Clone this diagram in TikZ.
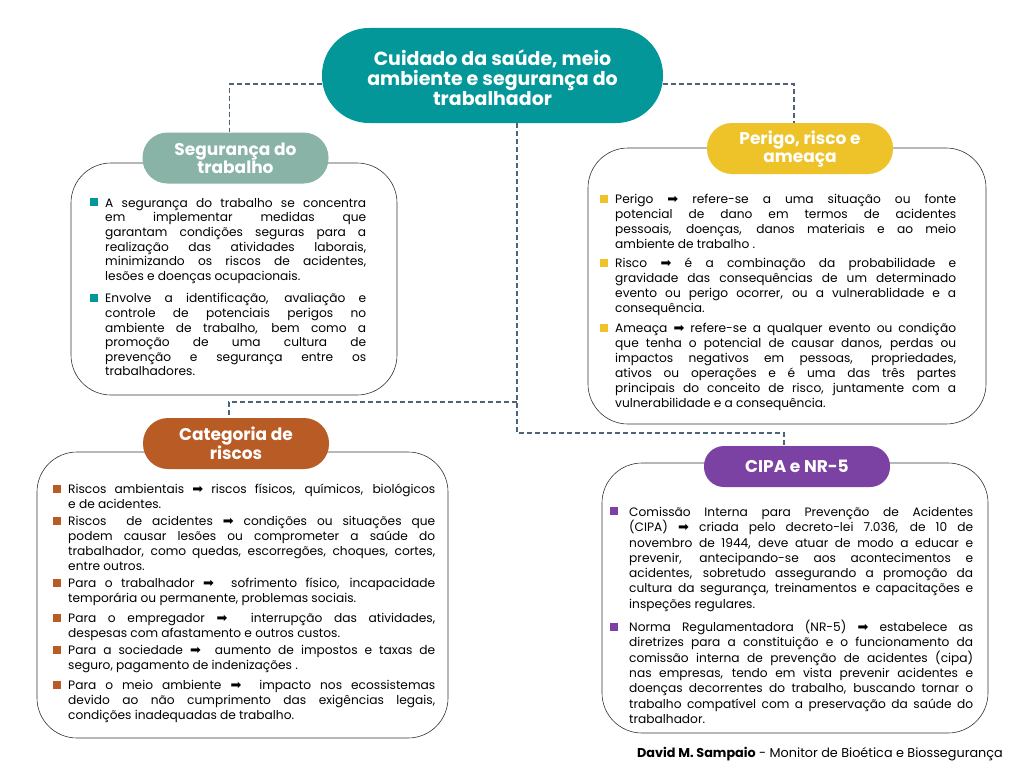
\documentclass[tikz,border=0pt]{standalone}
\usepackage{fontspec}
\setmainfont{Poppins}
\newfontfamily\symf{DejaVu Sans}
\usetikzlibrary{positioning,calc}

\definecolor{titlecol}{HTML}{03979A}
\definecolor{segcol}{HTML}{8AB3A8}
\definecolor{perigocol}{HTML}{EEC229}
\definecolor{riscocol}{HTML}{B95B25}
\definecolor{cipacol}{HTML}{7B41A3}
\definecolor{linkcol}{HTML}{4D6478}

\newlength{\bulind}
\newcommand{\arr}{{\symf\fontsize{13}{13}\selectfont ➡}}
\newcommand{\bul}[2][0pt]{\par\vspace{#1}\noindent\hangindent=\bulind\hangafter=1%
 \makebox[\bulind][l]{\textcolor{#2}{\rule[1pt]{8pt}{8pt}}}}
\newenvironment{bodytext}[3]{\begin{minipage}[t]{#1}\fontsize{12.2}{#3}\selectfont
 \setlength{\parskip}{0pt}\setlength{\bulind}{#2}}{\end{minipage}}

\begin{document}
\begin{tikzpicture}[x=1pt,y=-1pt,
 pill/.style={rounded corners=25pt,minimum width=186pt,minimum height=51pt,inner sep=0pt,
  text=white,align=center,font=\bfseries\fontsize{17}{18}\selectfont},
 card/.style={draw=black!80,line width=0.6pt,rounded corners=40pt,fill=white},
 link/.style={draw=linkcol,line width=1.3pt,dash pattern=on 5pt off 3pt},
 body/.style={anchor=north west,inner sep=0pt}]
 \useasboundingbox (0,0) rectangle (1024,768);
 \node[pill,fill=titlecol,minimum width=341pt,minimum height=95pt,rounded corners=47pt,
  font=\bfseries\fontsize{19}{20}\selectfont] (title) at (492.5,75.5)
  {\rule{0pt}{20pt}Cuidado da saúde, meio\\ambiente e segurança do\\trabalhador};
 \coordinate (hub) at ([xshift=24.5pt]title.south);
 \coordinate (split) at (517,402);
 \coordinate (bend) at (517,433);

 \node[card,minimum width=326pt,minimum height=232pt] (segcard) at (234,279) {};
 \node[card,minimum width=398pt,minimum height=276pt] (perigocard) at (787,286) {};
 \node[card,minimum width=411pt,minimum height=286pt] (riscocard) at (242.5,595) {};
 \node[card,minimum width=386pt,minimum height=270pt] (cipacard) at (795,598) {};

 \node[pill,fill=segcol] (segpill) at (235.5,158) {Segurança do\\trabalho};
 \node[pill,fill=perigocol] (perigopill) at (800,148.5) {Perigo, risco e\\ameaça};
 \node[pill,fill=riscocol] (riscopill) at (236,443.5) {Categoria de\\riscos};
 \node[pill,fill=cipacol,minimum height=41pt,rounded corners=20pt] (cipapill) at (797,466.5) {CIPA e NR-5};

 \draw[link] ([yshift=-8.5pt]title.west) -| ([xshift=-6pt]segpill.north);
 \draw[link] ([yshift=-8.5pt]title.east) -| ([xshift=-6pt]perigopill.north);
 \draw[link] (hub) -- (bend) -| ([xshift=-13pt]cipapill.north);
 \draw[link] (split) -| ([xshift=-7pt]riscopill.north);

 \node[body] (segtext) at (90,198) {\begin{bodytext}{276pt}{15pt}{14.6pt}
 \bul{titlecol}A segurança do trabalho se concentra\linebreak em implementar medidas que\linebreak garantam condições seguras para a\linebreak realização das atividades laborais,\linebreak minimizando os riscos de acidentes,\linebreak lesões e doenças ocupacionais.
 \bul[8pt]{titlecol}Envolve a identificação, avaliação e\linebreak controle de potenciais perigos no\linebreak ambiente de trabalho, bem como a\linebreak promoção de uma cultura de\linebreak prevenção e segurança entre os\linebreak trabalhadores.
 \end{bodytext}};

 \node[body] (perigotext) at (600,194) {\begin{bodytext}{356pt}{15pt}{15pt}
 \bul{perigocol}Perigo \arr{} refere-se a uma situação ou fonte\linebreak potencial de dano em termos de acidentes\linebreak pessoais, doenças, danos materiais e ao meio\linebreak ambiente de trabalho .
 \bul[4pt]{perigocol}Risco \arr{} é a combinação da probabilidade e\linebreak gravidade das consequências de um determinado\linebreak evento ou perigo ocorrer, ou a vulnerablidade e a\linebreak consequência.
 \bul[5pt]{perigocol}Ameaça \arr{} refere-se a qualquer evento ou condição\linebreak que tenha o potencial de causar danos, perdas ou\linebreak impactos negativos em pessoas, propriedades,\linebreak ativos ou operações e é uma das três partes\linebreak principais do conceito de risco, juntamente com a\linebreak vulnerabilidade e a consequência.
 \end{bodytext}};

 \node[body] (riscotext) at (53,484) {\begin{bodytext}{382pt}{15pt}{15pt}
 \bul{riscocol}Riscos ambientais \arr{} riscos físicos, químicos, biológicos\linebreak e de acidentes.
 \bul[2pt]{riscocol}Riscos \ de acidentes \arr{} condições ou situações que\linebreak podem causar lesões ou comprometer a saúde do\linebreak trabalhador, como quedas, escorregões, choques, cortes,\linebreak entre outros.
 \bul[2pt]{riscocol}Para o trabalhador \arr{} \ sofrimento físico, incapacidade\linebreak temporária ou permanente, problemas sociais.
 \bul[5pt]{riscocol}Para o empregador \arr{} \ interrupção das atividades,\linebreak despesas com afastamento e outros custos.
 \bul[2pt]{riscocol}Para a sociedade \arr{} \ aumento de impostos e taxas de\linebreak seguro, pagamento de indenizações .
 \bul[5pt]{riscocol}Para o meio ambiente \arr{} \ impacto nos ecossistemas\linebreak devido ao não cumprimento das exigências legais,\linebreak condições inadequadas de trabalho.
 \end{bodytext}};

 \node[body] (cipatext) at (610,507) {\begin{bodytext}{363pt}{19pt}{15.3pt}
 \bul{cipacol}Comissão Interna para Prevenção de Acidentes\linebreak (CIPA) \arr{} criada pelo decreto-lei 7.036, de 10 de\linebreak novembro de 1944, deve atuar de modo a educar e\linebreak prevenir, antecipando-se aos acontecimentos e\linebreak acidentes, sobretudo assegurando a promoção da\linebreak cultura da segurança, treinamentos e capacitações e\linebreak inspeções regulares.
 \bul[8pt]{cipacol}Norma Regulamentadora (NR-5) \arr{} estabelece as\linebreak diretrizes para a constituição e o funcionamento da\linebreak comissão interna de prevenção de acidentes (cipa)\linebreak nas empresas, tendo em vista prevenir acidentes e\linebreak doenças decorrentes do trabalho, buscando tornar o\linebreak trabalho compatível com a preservação da saúde do\linebreak trabalhador.
 \end{bodytext}};

 \node[anchor=base east,inner sep=0pt,font=\fontsize{12.8}{14}\selectfont] (sign) at (1003,757)
  {\textbf{David M. Sampaio} - Monitor de Bioética e Biossegurança};
\end{tikzpicture}
\end{document}
